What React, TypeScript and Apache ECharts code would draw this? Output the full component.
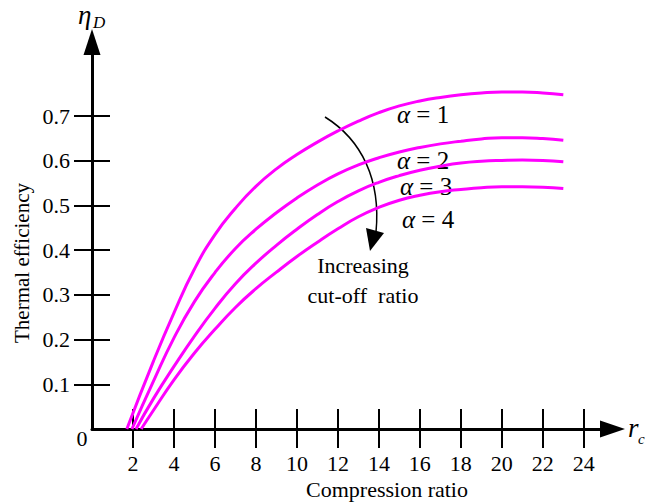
import React, { useEffect, useRef } from "react";
import * as echarts from "echarts";

// Compression ratio (r) vs thermal efficiency (eta) for four cut-off ratios
const alpha1: [number, number][] = [
  [1.7, 0], [3, 0.152], [4, 0.26], [5, 0.358], [6, 0.435], [7, 0.494], [8, 0.543],
  [9, 0.582], [10, 0.614], [11, 0.642], [12, 0.667], [13, 0.689], [14, 0.708], [15, 0.723],
  [16, 0.734], [17, 0.742], [18, 0.748], [19, 0.752], [20, 0.754], [21, 0.754], [22, 0.752], [23, 0.748],
];
const alpha2: [number, number][] = [
  [1.95, 0], [3, 0.107], [4, 0.204], [5, 0.285], [6, 0.35], [7, 0.404], [8, 0.447],
  [9, 0.484], [10, 0.517], [11, 0.546], [12, 0.571], [13, 0.591], [14, 0.607], [15, 0.62],
  [16, 0.63], [17, 0.638], [18, 0.644], [19, 0.649], [20, 0.652], [21, 0.652], [22, 0.65], [23, 0.646],
];
const alpha3: [number, number][] = [
  [2.15, 0], [3, 0.068], [4, 0.14], [5, 0.208], [6, 0.27], [7, 0.325], [8, 0.371],
  [9, 0.411], [10, 0.447], [11, 0.48], [12, 0.509], [13, 0.533], [14, 0.552], [15, 0.567],
  [16, 0.579], [17, 0.588], [18, 0.595], [19, 0.599], [20, 0.601], [21, 0.602], [22, 0.601], [23, 0.598],
];
const alpha4: [number, number][] = [
  [2.4, 0], [3, 0.042], [4, 0.11], [5, 0.17], [6, 0.223], [7, 0.272], [8, 0.314],
  [9, 0.351], [10, 0.386], [11, 0.418], [12, 0.448], [13, 0.475], [14, 0.496], [15, 0.512],
  [16, 0.523], [17, 0.531], [18, 0.536], [19, 0.54], [20, 0.542], [21, 0.542], [22, 0.541], [23, 0.538],
];
const seriesNames = ["α = 1", "α = 2", "α = 3", "α = 4"];
const xTicks = [2, 4, 6, 8, 10, 12, 14, 16, 18, 20, 22, 24];
const yTicks = [0.1, 0.2, 0.3, 0.4, 0.5, 0.6, 0.7];

const FONT = '"Liberation Serif", "Times New Roman", serif';

export default function App() {
  const ref = useRef<HTMLDivElement>(null);
  useEffect(() => {
    if (!ref.current) return;
    const chart = echarts.init(ref.current, null, { renderer: "svg" });
    const X_MAX = 25.4;
    const Y_MAX = 0.866;
    const tickColor = "#000";
    const curves = [alpha1, alpha2, alpha3, alpha4];
    const labelPos = [
      [397, 114],
      [397, 160],
      [400, 186],
      [402, 219],
    ];
    const txt = (text: string, x: number, y: number, size: number, extra: any = {}) => ({
      type: "text",
      x,
      y,
      silent: true,
      style: {
        text,
        fill: "#000",
        fontFamily: FONT,
        fontSize: size,
        align: "center",
        verticalAlign: "middle",
        ...extra,
      },
    });
    chart.setOption({
      animation: false,
      grid: { left: 92, right: 33.5, top: 42, bottom: 73, outerBoundsMode: "none", containLabel: false },
      xAxis: [
        {
          type: "value",
          min: 0,
          max: X_MAX,
          position: "bottom",
          axisLine: {
            show: true,
            onZero: false,
            symbol: ["none", "triangle"],
            symbolSize: [17, 25],
            lineStyle: { color: "#000", width: 3 },
          },
          axisTick: { show: true, length: 19, customValues: xTicks, lineStyle: { color: tickColor, width: 2 } },
          axisLabel: {
            show: true,
            customValues: xTicks,
            margin: 23,
            color: "#000",
            fontFamily: FONT,
            fontSize: 22,
          },
          splitLine: { show: false },
        },
        {
          type: "value",
          min: 0,
          max: X_MAX,
          position: "bottom",
          axisLine: { show: false, onZero: false },
          axisTick: { show: true, inside: true, length: 20, customValues: xTicks, lineStyle: { color: tickColor, width: 2 } },
          axisLabel: { show: false },
          splitLine: { show: false },
        },
      ],
      yAxis: [
        {
          type: "value",
          min: 0,
          max: Y_MAX,
          position: "left",
          axisLine: {
            show: true,
            onZero: false,
            symbol: ["none", "triangle"],
            symbolSize: [17, 26],
            lineStyle: { color: "#000", width: 3 },
          },
          axisTick: { show: true, length: 18, customValues: yTicks, lineStyle: { color: tickColor, width: 2 } },
          axisLabel: {
            show: true,
            customValues: yTicks,
            margin: 22,
            color: "#000",
            fontFamily: FONT,
            fontSize: 22,
            formatter: (v: number) => v.toFixed(1),
          },
          splitLine: { show: false },
        },
        {
          type: "value",
          min: 0,
          max: Y_MAX,
          position: "left",
          axisLine: { show: false, onZero: false },
          axisTick: { show: true, inside: true, length: 18, customValues: yTicks, lineStyle: { color: tickColor, width: 2 } },
          axisLabel: { show: false },
          splitLine: { show: false },
        },
      ],
      series: curves.map((d, i) => ({
        type: "line",
        name: seriesNames[i],
        data: d,
        xAxisIndex: 0,
        yAxisIndex: 0,
        smooth: 0.5,
        symbol: "none",
        lineStyle: { color: "#ff00ff", width: 3 },
        silent: true,
      })),
      graphic: [
        { ...txt("Thermal efficiency", 22, 263, 21), rotation: Math.PI / 2 },
        txt("Compression ratio", 387, 489, 22),
        txt("0", 82, 438, 22),
        txt("η", 78, 15, 27, { align: "left", fontStyle: "italic" }),
        txt("D", 93, 22, 17, { align: "left", fontStyle: "italic" }),
        txt("r", 628, 428, 27, { align: "left", fontStyle: "italic" }),
        txt("c", 638, 439, 15, { align: "left", fontStyle: "italic" }),
        txt("Increasing", 363, 265, 22),
        txt("cut-off  ratio", 363, 295, 22),
        ...seriesNames.map((n, i) =>
          txt("{a|α} = " + (i + 1), labelPos[i][0], labelPos[i][1], 25, {
            align: "left",
            rich: { a: { fontStyle: "italic", fontFamily: FONT, fontSize: 25, fill: "#000" } },
          })
        ),
        {
          type: "bezierCurve",
          silent: true,
          shape: { x1: 325, y1: 117, cpx1: 362, cpy1: 140, cpx2: 381, cpy2: 180, x2: 376, y2: 232 },
          style: { stroke: "#000", lineWidth: 1.5, fill: "none" },
        },
        {
          type: "polygon",
          silent: true,
          shape: { points: [[366, 228], [384, 233], [370, 251]] },
          style: { fill: "#000" },
        },
      ],
    });
    return () => chart.dispose();
  }, []);
  return <div ref={ref} style={{ width: 646, height: 502, position: "absolute", left: 0, top: 0 }} />;
}
